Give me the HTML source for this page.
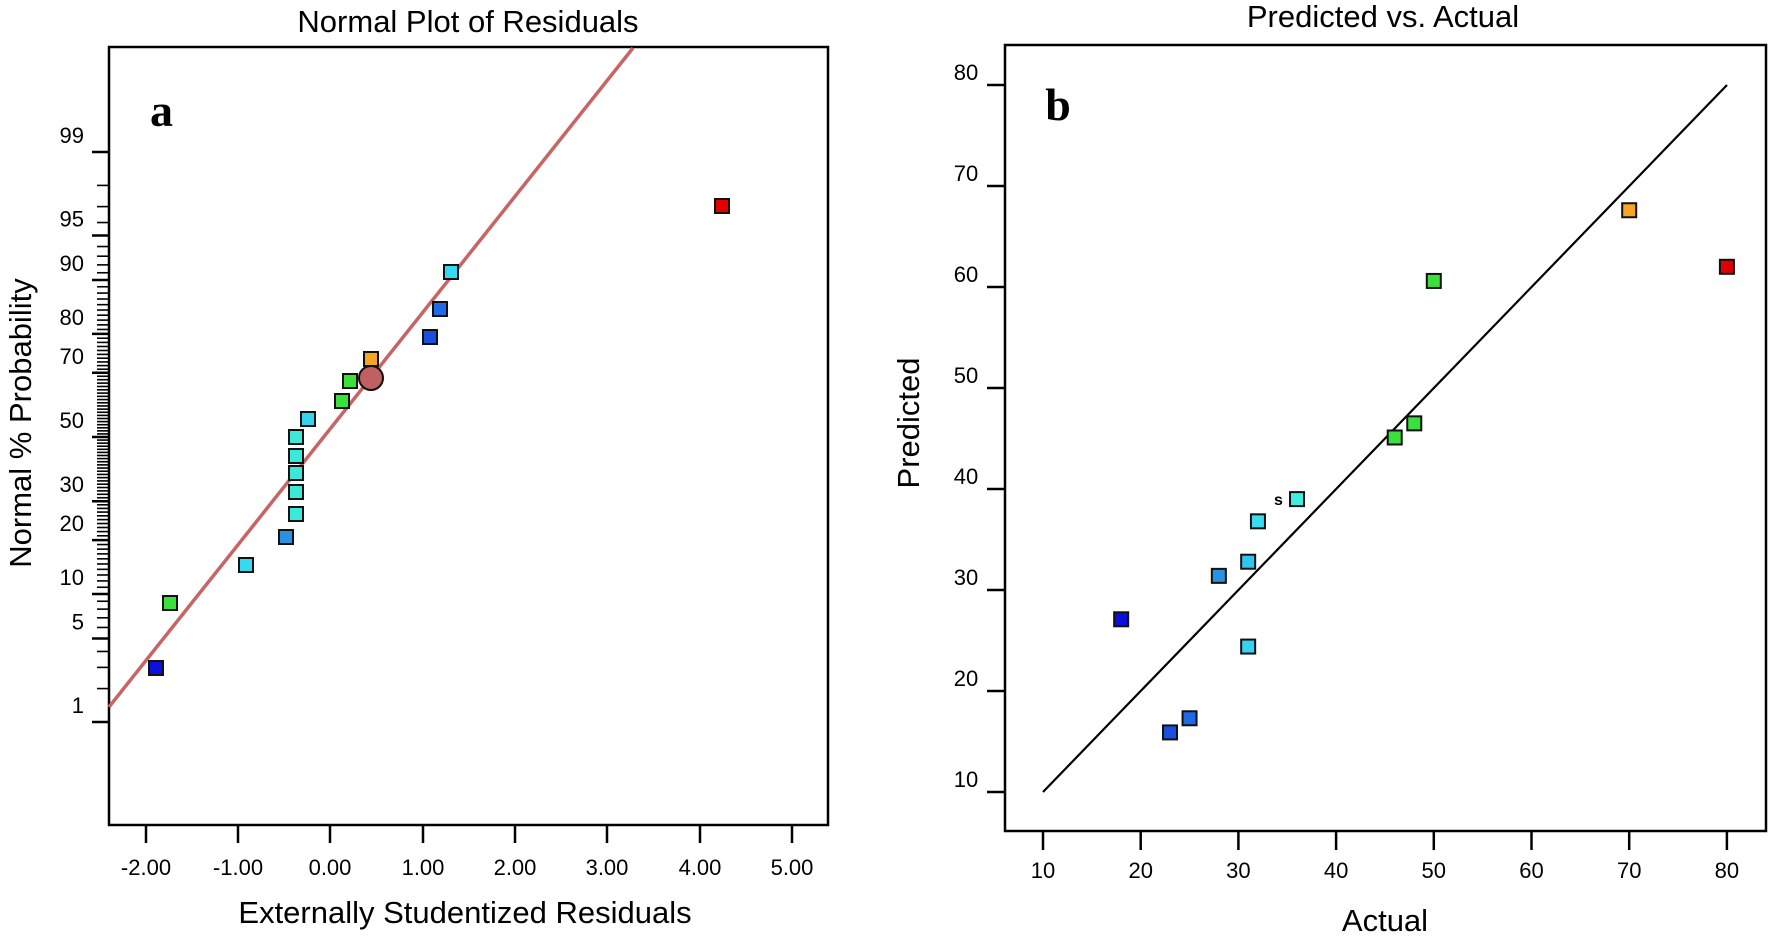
<!DOCTYPE html>
<html><head><meta charset="utf-8"><style>
html,body{margin:0;padding:0;background:#fff;}
svg{display:block;font-family:"Liberation Sans",sans-serif;}
</style></head><body>
<svg id="s" width="1770" height="939" viewBox="0 0 1770 939" xmlns="http://www.w3.org/2000/svg">
<!-- LEFT PANEL -->
<text x="468" y="32" font-size="31" text-anchor="middle">Normal Plot of Residuals</text>
<rect x="109" y="47" width="719" height="778" fill="none" stroke="#000" stroke-width="2.5"/>
<g id="ly" stroke="#000" stroke-width="2"></g>
<g font-size="22" text-anchor="end" id="lyl"></g>
<g stroke="#000" stroke-width="2.5">
<line x1="146" y1="825" x2="146" y2="843"/><line x1="238" y1="825" x2="238" y2="843"/>
<line x1="330" y1="825" x2="330" y2="843"/><line x1="423" y1="825" x2="423" y2="843"/>
<line x1="515" y1="825" x2="515" y2="843"/><line x1="607" y1="825" x2="607" y2="843"/>
<line x1="700" y1="825" x2="700" y2="843"/><line x1="792" y1="825" x2="792" y2="843"/>
</g>
<g font-size="22" text-anchor="middle">
<text x="146" y="875">-2.00</text><text x="238" y="875">-1.00</text><text x="330" y="875">0.00</text>
<text x="423" y="875">1.00</text><text x="515" y="875">2.00</text><text x="607" y="875">3.00</text>
<text x="700" y="875">4.00</text><text x="792" y="875">5.00</text>
</g>
<text x="465" y="923" font-size="31" text-anchor="middle">Externally Studentized Residuals</text>
<text transform="translate(31,423) rotate(-90)" font-size="31" text-anchor="middle">Normal % Probability</text>
<text x="150" y="126" font-size="46" font-weight="bold" font-family="Liberation Serif,serif">a</text>
<line x1="109" y1="707" x2="633" y2="48" stroke="#c86464" stroke-width="3.5"/>
<g stroke="#111" stroke-width="2">
<rect x="715" y="199" width="14" height="14" fill="#e00000"/>
<rect x="444" y="265" width="14" height="14" fill="#36d8f2"/>
<rect x="433" y="302" width="14" height="14" fill="#1f6ae8"/>
<rect x="423" y="330" width="14" height="14" fill="#1a4fe0"/>
<rect x="364" y="352" width="14" height="14" fill="#f5a623"/>
<rect x="343" y="374" width="14" height="14" fill="#3ce03c"/>
<rect x="335" y="394" width="14" height="14" fill="#3ce03c"/>
<circle cx="371" cy="378" r="12" fill="#c06060"/>
<rect x="301" y="412" width="14" height="14" fill="#36d2f0"/>
<rect x="289" y="430" width="14" height="14" fill="#3ce8d8"/>
<rect x="289" y="449" width="14" height="14" fill="#3ce8d8"/>
<rect x="289" y="466" width="14" height="14" fill="#3ce8d8"/>
<rect x="289" y="485" width="14" height="14" fill="#3ce8d8"/>
<rect x="289" y="507" width="14" height="14" fill="#3ce8d8"/>
<rect x="279" y="530" width="14" height="14" fill="#2a92e0"/>
<rect x="239" y="558" width="14" height="14" fill="#36d8f2"/>
<rect x="163" y="596" width="14" height="14" fill="#3ce03c"/>
<rect x="149" y="661" width="14" height="14" fill="#0a10e0"/>
</g>

<!-- RIGHT PANEL -->
<text x="1383" y="27" font-size="31" text-anchor="middle">Predicted vs. Actual</text>
<rect x="1005" y="45" width="761" height="786" fill="none" stroke="#000" stroke-width="2.5"/>
<g id="ry" stroke="#000" stroke-width="2.5"></g>
<text x="1058" y="120" font-size="46" font-weight="bold" font-family="Liberation Serif,serif" text-anchor="middle">b</text>
<text transform="translate(919,423) rotate(-90)" font-size="31" text-anchor="middle">Predicted</text>
<text x="1385" y="931" font-size="31" text-anchor="middle">Actual</text>
<line x1="1043" y1="792" x2="1727" y2="85" stroke="#000" stroke-width="2.2"/>
<text x="1274" y="505" font-size="16" font-weight="bold">s</text>
</svg>
<script>
(function(){
var NS="http://www.w3.org/2000/svg";
function el(p,t,a,txt){var e=document.createElementNS(NS,t);for(var k in a)e.setAttribute(k,a[k]);if(txt!=null)e.textContent=txt;p.appendChild(e);return e;}
function ninv(p){var a1=-39.6968302866538,a2=220.946098424521,a3=-275.928510446969,a4=138.357751867269,a5=-30.6647980661472,a6=2.50662827745924,b1=-54.4760987982241,b2=161.585836858041,b3=-155.698979859887,b4=66.8013118877197,b5=-13.2806815528857,c1=-7.78489400243029e-03,c2=-0.322396458041136,c3=-2.40075827716184,c4=-2.54973253934373,c5=4.37466414146497,c6=2.93816398269878,d1=7.78469570904146e-03,d2=0.32246712907004,d3=2.445134137143,d4=3.75440866190742,pl=0.02425,q,r;
if(p<pl){q=Math.sqrt(-2*Math.log(p));return(((((c1*q+c2)*q+c3)*q+c4)*q+c5)*q+c6)/((((d1*q+d2)*q+d3)*q+d4)*q+1);}
if(p<=1-pl){q=p-0.5;r=q*q;return(((((a1*r+a2)*r+a3)*r+a4)*r+a5)*r+a6)*q/(((((b1*r+b2)*r+b3)*r+b4)*r+b5)*r+1);}
q=Math.sqrt(-2*Math.log(1-p));return -(((((c1*q+c2)*q+c3)*q+c4)*q+c5)*q+c6)/((((d1*q+d2)*q+d3)*q+d4)*q+1);}
var ly=document.getElementById("ly"),lyl=document.getElementById("lyl");
var maj={1:1,5:1,10:1,20:1,30:1,50:1,70:1,80:1,90:1,95:1,99:1};
for(var i=1;i<=99;i++){var y=437-ninv(i/100)*122.5;
 el(ly,"line",{x1:maj[i]?92:97,y1:y,x2:109,y2:y,"stroke-width":maj[i]?2.5:1.6});
 if(maj[i])el(lyl,"text",{x:84,y:y-9},String(i));}
var svg=document.getElementById("s"),ry=document.getElementById("ry");
var g=el(svg,"g",{"font-size":"22","text-anchor":"middle"});
for(var v=10;v<=80;v+=10){var x=1043+(v-10)*9.77,yy=792-(v-10)*10.1;
 el(ry,"line",{x1:x,y1:831,x2:x,y2:850});el(ry,"line",{x1:987,y1:yy,x2:1005,y2:yy});
 el(g,"text",{x:x,y:878},String(v));el(g,"text",{x:966,y:yy-5},String(v));}
var pts=[[18,27.1,"#0a10d8"],[23,15.9,"#1a4fe0"],[25,17.3,"#1f6ae8"],[28,31.4,"#2a92e0"],[31,32.8,"#30c6ee"],[31,24.4,"#36d2f2"],[32,36.8,"#3adcf0"],[36,39,"#40eee0"],[46,45.1,"#3ce03c"],[48,46.5,"#3ce03c"],[50,60.6,"#3ce03c"],[70,67.6,"#f5a623"],[80,62,"#e00000"]];
var pg=el(svg,"g",{stroke:"#111","stroke-width":"2"});
pts.forEach(function(p){var x=1043+(p[0]-10)*9.77,y=792-(p[1]-10)*10.1;el(pg,"rect",{x:x-7,y:y-7,width:14,height:14,fill:p[2]});});
})();
</script>
</body></html>
